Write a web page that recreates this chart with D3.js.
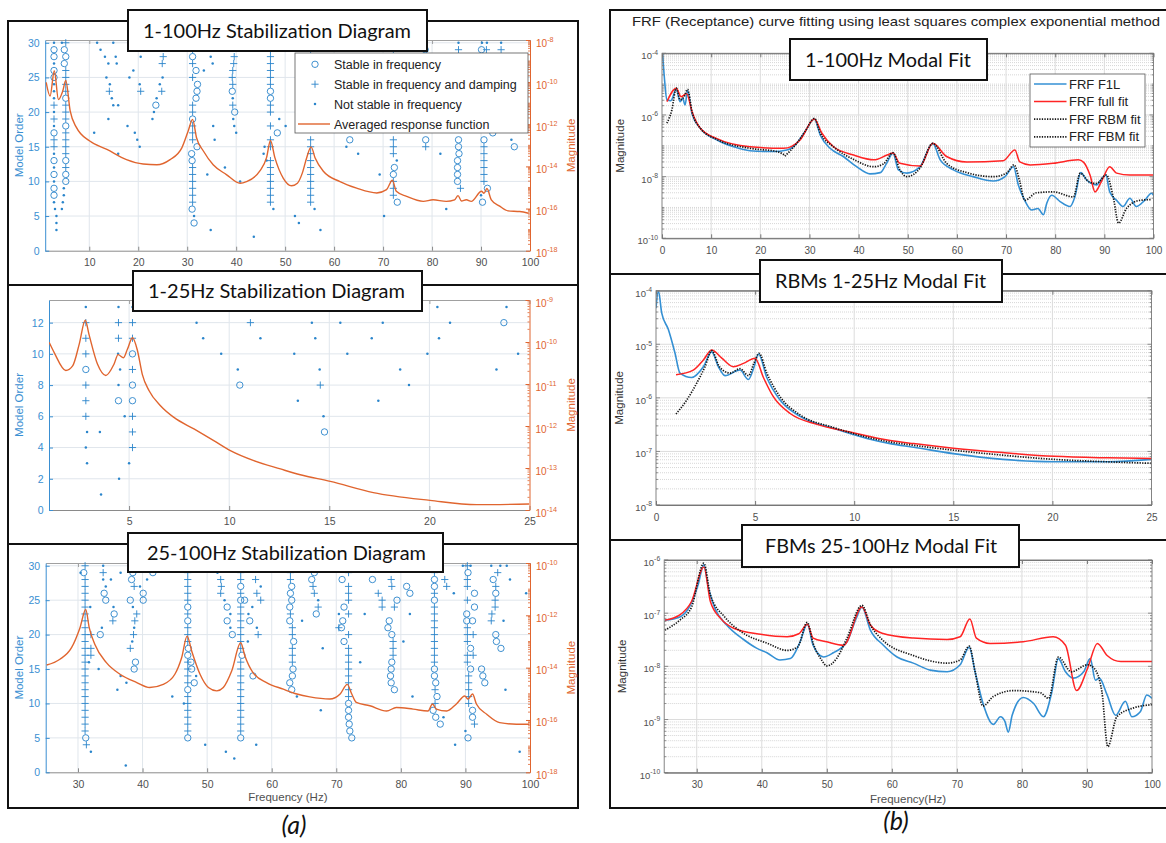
<!DOCTYPE html>
<html>
<head>
<meta charset="utf-8">
<script src="https://cdn.jsdelivr.net/npm/d3@7"></script>
<style>
  html, body { margin: 0; padding: 0; background: #ffffff; }
  svg { display: block; font-family: "Liberation Sans", Arial, sans-serif; }
</style>
</head>
<body>
<svg id="fig" width="1166" height="843"></svg>
<script>
// ---------------- (a) 1-100 Hz stabilization diagram ----------------
const stab100FreqTicks = [10, 20, 30, 40, 50, 60, 70, 80, 90, 100];
const stab100OrderTicks = [0, 5, 10, 15, 20, 25, 30];
const stab100MagTicks = [1e-18, 1e-16, 1e-14, 1e-12, 1e-10, 1e-8];
// [frequency Hz, model order]
const stab100Circle = [
  [2.8,29],[2.8,28],[2.8,26],[2.8,25],[2.8,17],[2.8,13],[2.8,11],[2.8,9],[2.8,8],
  [4.9,29],[4.9,27],[5.2,28],[5.2,22],[5.2,18],[5.2,13],[5.2,11],[5.2,10],
  [23.6,21],
  [31.1,28],[31.8,26],[32.1,24],[32.0,23],[31.8,22],[31.1,19],[32.0,15],[30.9,14],[31.0,13],[31.0,6],[31.4,4],
  [39.2,23],[39.7,20],
  [47.0,23],[47.0,22],[48.4,17],
  [63.2,16],[72.3,12],[72.1,11],[72.9,7],[78.7,16],
  [85.4,16],[85.4,15],[85.5,14],[85.2,13],[85.2,12],[85.2,11],[85.2,10],
  [90.6,16],[91.3,9],[90.3,7],[92.4,17],[96.8,15],[90.1,29],[78.6,29]
];
const stab100Plus = [
  [2.8,21],[2.8,19],[2.8,16],[2.8,15],
  [5.2,30],[5.2,26],[5.2,25],[5.2,24],[5.2,23],[5.2,21],[5.2,20],[5.2,19],[5.2,17],[5.2,16],[5.2,15],[5.2,14],[5.2,12],
  [14.1,23],[20.5,23],[24.8,23],[24.9,27],[25.1,28],
  [31.1,30],[31.1,29],[31.1,27],[31.1,25],[31.1,21],[31.1,20],[31.1,18],[31.1,17],[31.1,16],[31.1,12],[31.1,11],[31.1,10],[31.1,9],[31.1,8],[31.1,7],
  [39.6,28],[39.5,27],[39.3,26],[39.2,25],[39.3,24],[39.3,21],
  [47.0,30],[47.0,29],[47.0,28],[47.0,27],[47.0,26],[47.0,25],[47.0,24],[47.0,21],[47.0,20],[47.0,18],[47.0,16],[47.0,15],[47.0,13],[47.0,12],[47.0,11],[47.0,10],[47.0,9],[47.0,8],[47.0,7],
  [55.2,30],[55.2,29],[55.2,16],[55.2,15],[55.2,14],[55.2,13],[55.2,12],[55.2,11],[55.2,10],[55.2,9],[55.2,8],[55.2,7],
  [72.1,30],[72.1,29],[72.1,16],[72.1,15],[72.1,14],[72.1,10],[72.1,9],[72.1,8],
  [78.7,15],[85.4,29],[85.8,9],
  [90.6,15],[90.6,14],[90.6,13],[90.6,12],[90.6,11],[90.6,10],
  [91.1,29],[94.1,29]
];
const stab100Dot = [
  [2.8,30],[2.8,27],[2.8,24],[2.8,23],[2.8,22],[2.8,20],[2.8,18],[2.8,14],[2.8,12],[2.8,10],[2.8,7],[3.0,6],[3.3,5],[3.3,4],[3.3,3],
  [4.4,30],[4.8,9],[4.8,8],[4.6,7],[4.4,6],
  [11.6,30],[12.3,29],[13.2,28],[13.9,27],[13.5,25],[14.2,24],[14.6,22],[14.9,21],[15.9,21],[13.9,19],[14.9,30],[15.4,28],[15.6,27],
  [11.0,17],[15.9,14],[17.8,18],[18.2,25],[19.0,26],[19.3,17],[19.8,16],[20.3,15],[20.3,24],[20.0,30],[20.5,28],
  [22.9,19],[23.2,20],[23.75,22],[24.4,24],[24.97,25],
  [31.4,5],[33.4,26],[34.8,28],[35.2,27],[35.3,18],[35.6,16],[34.1,11],[34.8,3],[37.7,12],[40.8,10],[40.0,17],[43.6,2],
  [39.4,30],[39.5,29],[39.3,22],[39.4,19],[39.6,18],
  [47.6,6],[45.6,14],[46.2,13],[48.8,19],[50.1,18],[45.8,15],
  [52.0,5],[52.8,4],[56.0,6],[57.2,3],[62.5,15],[64.9,14],
  [72.8,13],[69.3,11],[70.2,5],[81.7,14],[82.9,6],
  [85.4,30],[90.2,30],[91.2,30],[94.1,30],[90.0,8],[96.2,16],[63.2,29]
];
// averaged response function [frequency Hz, magnitude]
const stab100Avg = [
  [1.2,9.8e-11],[2.0,2.2e-11],[2.86,3.5e-10],[3.7,1.5e-11],[4.6,3.9e-11],[5.2,1.2e-10],[6.1,4.3e-12],[7.4,6.9e-13],
  [10.1,1.6e-13],[13.6,6.4e-14],[17.6,2.1e-14],[21,1.3e-14],[23.8,1.2e-14],[26.5,2.1e-14],[28.9,7.6e-14],[30.2,4.8e-13],
  [31.1,1.7e-12],[31.9,2.3e-13],[33.3,5.4e-14],[35.3,1.2e-14],[38.0,4.1e-15],[40.8,1.6e-15],[42.1,1.9e-15],[44.8,5.9e-15],
  [46.2,2.6e-14],[47.0,1.7e-13],[47.9,2.6e-14],[49.6,2.8e-15],[51.3,1.2e-15],[52.5,1.6e-15],[53.5,4.8e-15],[54.4,2.6e-14],
  [55.3,8.5e-14],[56.1,2.6e-14],[57.8,5.9e-15],[61.2,1.9e-15],[64.6,9.3e-16],[68.7,5.5e-16],[70.7,7.9e-16],[71.9,2.2e-15],
  [72.7,6.6e-16],[74.8,3.8e-16],[78.2,2.2e-16],[80.2,2.6e-16],[82.9,2.2e-16],[84.6,2.6e-16],[85.3,4.1e-16],[86.0,2.3e-16],
  [87.0,2.6e-16],[88.0,2.2e-16],[90.1,6.6e-16],[90.6,5.3e-16],[91.2,8.9e-16],[92.1,2.6e-16],[93.8,1.3e-16],[95.5,7.8e-17],
  [97.9,7.2e-17],[99.7,6.0e-17]
];

// ---------------- (a) 1-25 Hz stabilization diagram ----------------
const stab25FreqTicks = [5, 10, 15, 20, 25];
const stab25OrderTicks = [0, 2, 4, 6, 8, 10, 12];
const stab25MagTicks = [1e-14, 1e-13, 1e-12, 1e-11, 1e-10, 1e-9];
const stab25Circle = [[2.84,9],[4.47,7],[5.17,10],[5.17,8],[5.17,7],[10.53,8],[23.72,12],[14.76,5]];
const stab25Plus = [
  [2.84,12],[2.84,11],[2.84,10],[2.84,8],[2.84,7],[2.84,6],[4.47,12],[4.47,11],
  [5.17,12],[5.17,11],[5.17,9],[5.17,6],[5.17,5],[5.17,4],[11.06,12],[14.55,8]
];
const stab25Dot = [
  [2.84,13],[2.9,5],[2.84,4],[2.9,3],[3.54,5],[3.6,1],[4.47,13],[4.45,10],[4.55,9],[4.47,8],[4.78,6],[4.5,2],
  [5.17,13],[5.0,3],[8.37,12],[8.7,11],[9.6,10],[10.43,9],[11.56,11],[13.25,10],[13.43,7],
  [20.4,13],[23.85,13],[14.13,12],[15.55,12],[17.67,12],[21.03,12],[14.3,11],[17.12,11],[20.48,11],
  [15.9,10],[19.9,10],[24.43,10],[14.52,9],[18.54,9],[23.35,9],[18.98,8],[17.45,7],[14.71,6]
];
const stab25Avg = [
  [1.01,9.8e-11],[1.26,5.6e-11],[1.84,2.1e-11],[2.18,2.7e-11],[2.51,8.9e-11],[2.81,3.3e-10],[3.0,1.5e-10],[3.42,3.0e-11],
  [3.84,1.6e-11],[4.25,3.0e-11],[4.45,5.0e-11],[4.72,4.2e-11],[4.92,6.8e-11],[5.17,1.26e-10],[5.42,6.2e-11],[5.66,1.7e-11],
  [6.0,6.9e-12],[6.58,3.0e-12],[7.24,1.6e-12],[8.24,8.5e-13],[9.23,4.5e-13],[10.06,2.6e-13],[11.23,1.5e-13],[12.56,9.5e-14],
  [13.55,6.9e-14],[15.05,4.8e-14],[17.2,2.6e-14],[20.03,1.7e-14],[22.36,1.34e-14],[24.98,1.39e-14]
];

// ---------------- (a) 25-100 Hz stabilization diagram ----------------
const stab25100FreqTicks = [30, 40, 50, 60, 70, 80, 90, 100];
const stab25100OrderTicks = [0, 5, 10, 15, 20, 25, 30];
const stab25100MagTicks = [1e-18, 1e-16, 1e-14, 1e-12, 1e-10];
const stab25100Circle = [
  [30.9,29],[31.2,5],[33.45,20],[34.05,26],[34.3,25],[35.6,23],
  [38.1,25],[38.3,28],[38.5,29],[38.9,16],[38.7,15],[40.1,26],[40.1,25],[41.6,29],
  [47.0,24],[47.0,22],[47.1,18],[47.0,17],[47.5,16],[47.6,15],[48.0,13],[47.0,12],[47.0,5],
  [53.1,24],[53.1,22],[53.9,20],
  [55.2,27],[55.2,25],[55.8,25],[55.4,17],[55.2,5],[56.6,22],[57.1,14],
  [63.1,27],[62.9,26],[63.1,25],[62.8,24],[62.8,22],[63.4,19],[63.3,15],[63.2,14],[62.8,13],[63.1,12],
  [66.2,28],[66.6,29],[66.9,23],
  [70.9,28],[71.2,24],[71.0,22],[70.8,21],[71.2,19],[71.9,10],[71.9,9],[71.9,8],[72.0,7],[72.1,6],[72.4,5],
  [75.6,28],[79.4,25],[78.2,22],[78.0,21],[78.6,20],[78.6,16],[78.5,15],[78.4,14],[78.5,13],[79.0,12],
  [80.9,27],[81.4,26],
  [85.2,28],[85.2,27],[85.2,25],[85.2,15],[85.2,14],[85.4,13],[85.6,11],[85.0,9],[85.4,8],[86.1,7],
  [90.4,29],[90.2,23],[90.2,22],[90.8,18],[90.8,15],[90.4,5],[91.4,26],[91.4,24],[91.1,22],[91.1,9],[91.1,8],
  [92.5,15],[92.7,14],[93.0,13],
  [94.3,28],[94.7,26],[94.7,20],[94.8,19],[95.5,18]
];
const stab25100Plus = [
  [31.1,30],[31.1,28],[31.1,27],[31.1,26],[31.1,25],[31.1,24],[31.1,23],[31.1,22],[31.1,21],[31.1,20],[31.1,19],[31.1,18],
  [31.1,17],[31.1,16],[31.1,15],[31.1,14],[31.1,13],[31.1,12],[31.1,11],[31.1,10],[31.1,9],[31.1,8],[31.1,7],[31.1,6],[31.3,4],
  [32.0,20],[32.0,18],[32.0,17],[33.9,29],[35.4,22],
  [38.1,18],[38.6,20],[38.8,22],[39.1,23],[38.7,27],
  [47.0,30],[47.0,29],[47.0,28],[47.0,27],[47.0,26],[47.0,25],[47.0,23],[47.0,21],[47.0,20],[47.0,19],[47.0,16],[47.0,15],
  [47.0,14],[47.0,13],[47.0,11],[47.0,10],[47.0,9],[47.0,8],[47.0,7],[47.0,6],
  [52.1,28],[52.2,27],[52.1,26],
  [55.2,30],[55.2,29],[55.2,28],[55.2,26],[55.2,24],[55.2,23],[55.2,22],[55.2,21],[55.2,20],[55.2,19],[55.2,18],[55.2,16],
  [55.2,15],[55.2,14],[55.2,13],[55.2,12],[55.2,11],[55.2,10],[55.2,9],[55.2,8],[55.2,7],[55.2,6],
  [57.5,28],[57.7,26],[58.3,25],[57.9,20],
  [62.9,30],[62.9,29],[62.9,28],[62.9,23],[63.2,21],[63.2,20],[63.2,18],[63.2,17],[63.2,16],
  [66.4,27],[66.6,26],[67.2,24],
  [71.9,30],[71.9,29],[71.9,27],[71.9,26],[71.9,25],[71.9,23],[71.9,20],[71.9,18],[71.9,17],[71.9,16],[71.9,15],[71.9,14],
  [71.9,13],[71.9,12],[71.9,11],[70.4,21],
  [76.5,26],[77.1,25],[77.1,24],[78.5,28],[78.6,27],[79.0,24],[78.8,19],[78.8,18],[78.8,17],
  [85.2,29],[85.2,26],[85.2,24],[85.2,23],[85.2,22],[85.2,21],[85.2,20],[85.2,19],[85.2,18],[85.2,17],[85.2,16],[85.3,12],[85.3,10],
  [86.8,28],[87.1,27],
  [90.3,30],[90.3,28],[90.3,27],[90.3,25],[90.3,21],[90.3,20],[90.3,19],[90.3,17],[90.3,16],[90.5,14],[90.5,13],[90.5,12],
  [90.5,11],[90.5,10],[91.4,7],[91.2,20],[91.2,17],
  [95.0,29],[94.6,25],[94.1,23],[94.0,22],[94.7,27],[94.6,24]
];
const stab25100Dot = [
  [32.0,3],[30.4,29],[31.9,24],[31.7,16],[33.2,15],[33.7,21],[34.3,27],[33.9,28],[35.1,28],[33.9,30],[35.5,24],
  [36.6,14],[36.1,12],[37.4,1],[36.6,29],[37.5,13],
  [38.4,19],[38.7,21],[38.5,24],[39.6,27],[40.7,28],
  [44.6,11],[46.4,10],[48.3,14],[49.7,4],[52.9,3],[54.2,2],
  [52.7,25],[53.6,21],[53.6,23],[51.6,29],
  [57.6,4],[56.4,23],[57.0,24],[56.3,19],[58.3,27],[57.7,21],[57.5,30],
  [63.9,11],[67.2,25],[64.7,22],[67.9,18],[67.6,9],
  [70.4,23],[74.4,23],[73.7,16],
  [81.4,23],[80.4,19],[81.8,11],
  [88.2,26],[86.6,8],[88.4,4],[90.0,6],
  [94.0,30],[95.4,30],[96.4,30],[96.9,28],[95.9,22],[96.2,12],[98.4,3],[99.4,26],[89.6,30],[90.8,30]
];
const stab25100Avg = [
  [25.15,1.26e-14],[27.2,2.1e-14],[29.0,5.8e-14],[30.3,3.3e-13],[31.2,1.66e-12],[31.75,3.3e-13],[32.6,7.8e-14],[34.4,1.55e-14],
  [36.5,5.6e-15],[39.1,2.7e-15],[41.1,1.74e-15],[43.2,2.3e-15],[45.0,5.6e-15],[46.05,2.4e-14],[46.9,1.6e-13],[47.6,4.4e-14],
  [48.9,5.6e-15],[50.2,1.74e-15],[51.5,1.29e-15],[52.5,1.74e-15],[53.8,7.4e-15],[55.2,8.9e-14],[55.85,2.8e-14],[57.1,6.5e-15],
  [59.2,2.7e-15],[61.8,1.5e-15],[63.9,9.8e-16],[65.9,7.6e-16],[69.0,6.3e-16],[70.6,9.8e-16],[71.7,2.3e-15],[72.4,9.8e-16],
  [73.1,4.7e-16],[75.2,3.5e-16],[77.8,2.2e-16],[79.3,3.0e-16],[81.9,2.6e-16],[84.2,2.2e-16],[84.9,4.1e-16],[85.5,2.6e-16],
  [87.1,2.2e-16],[88.6,4.1e-16],[89.9,8.3e-16],[90.4,6.3e-16],[91.1,9.8e-16],[91.7,4.1e-16],[93.3,1.65e-16],[95.3,7.9e-17],
  [97.9,6.9e-17],[99.9,6.9e-17]
];

// ---------------- (b) 1-100 Hz modal fit ----------------
const fit100FreqTicks = [0, 10, 20, 30, 40, 50, 60, 70, 80, 90, 100];
const fit100MagTicks = [1e-10, 1e-8, 1e-6, 1e-4];
const fit100F1L = [
  [0.12,1e-4],[0.47,1.7e-5],[1.0,3.1e-6],[1.8,2.9e-6],[2.9,6.8e-6],[3.7,2.7e-6],[4.2,3.5e-6],[4.7,2.1e-6],[5.2,6.2e-6],
  [6.1,1.1e-6],[7.8,3.7e-7],[11.2,1.55e-7],[14.6,9.3e-8],[17.9,6.9e-8],[22.7,6.5e-8],[25.4,7.3e-8],[27.4,1.2e-7],[29.1,2.9e-7],
  [31.0,7.4e-7],[32.2,2.2e-7],[34.2,8.3e-8],[36.9,4.5e-8],[39.6,2.1e-8],[42.3,1.23e-8],[44.4,1.35e-8],[45.7,2.7e-8],[47.0,5.8e-8],
  [48.1,1.66e-8],[49.8,1.3e-8],[52.5,2.1e-8],[55.1,1.2e-7],[56.6,3.5e-8],[59.3,1.66e-8],[63.3,1e-8],[67.4,7.2e-9],[69.8,1e-8],
  [71.5,2.1e-8],[72.5,5.4e-9],[73.8,1.7e-9],[75.2,8.3e-10],[76.5,9.3e-10],[77.6,5.8e-10],[78.3,1.4e-9],[79.3,2.5e-9],
  [81.0,1.55e-9],[83.0,1.07e-9],[84.0,2.2e-9],[85.2,1.35e-8],[86.4,7.8e-9],[88.4,5.4e-9],[89.8,1e-8],[90.3,1.13e-8],
  [91.1,3.2e-9],[92.5,1.7e-9],[93.8,1.07e-9],[95.2,2.0e-9],[96.5,1.07e-9],[98.2,1.7e-9],[99.6,2.9e-9],[100,2.5e-9]
];
const fit100Full = [
  [1.0,2.7e-6],[2.9,7.4e-6],[3.9,3.9e-6],[5.0,5.0e-6],[6.1,1.3e-6],[7.8,3.7e-7],[11.2,1.7e-7],[17.9,9.3e-8],[24.7,8.3e-8],
  [28.1,1.55e-7],[31.0,7.4e-7],[32.5,2.6e-7],[34.9,9.3e-8],[39.0,5.0e-8],[43.1,3.5e-8],[45.8,5.0e-8],[47.0,5.8e-8],[48.4,2.7e-8],
  [52.5,2.2e-8],[55.1,1.2e-7],[57.9,4.5e-8],[62.0,3.0e-8],[69.4,3.3e-8],[71.8,7.3e-8],[72.8,3.0e-8],[74.9,2.4e-8],[79.6,2.7e-8],
  [84.7,3.5e-8],[85.8,2.9e-8],[87.1,1.1e-8],[88.1,3.2e-9],[89.4,6.9e-9],[91.1,2.1e-8],[92.5,1.3e-8],[95.2,1.13e-8],[100,1.13e-8]
];
const fit100Rbm = [
  [1.0,5.4e-7],[2.0,1.45e-6],[2.9,7.4e-6],[3.7,3.1e-6],[4.5,3.9e-6],[5.2,6.8e-6],[6.1,1.3e-6],[7.8,3.7e-7],[11.2,1.6e-7],
  [17.9,8.3e-8],[23.4,6.5e-8],[25.0,5.0e-8]
];
const fit100Fbm = [
  [25.0,4.6e-8],[27.4,1.2e-7],[29.1,2.9e-7],[31.0,7.7e-7],[32.2,2.6e-7],[34.9,9.3e-8],[39.0,3.6e-8],[43.1,2.1e-8],[45.1,2.6e-8],
  [47.0,6e-8],[48.4,1.66e-8],[49.8,1e-8],[52.5,1.9e-8],[55.1,1.2e-7],[57.9,2.7e-8],[62.0,1.35e-8],[67.4,1e-8],[70.1,1.3e-8],
  [71.6,2.4e-8],[72.8,6.9e-9],[73.8,1.7e-9],[76.2,3.0e-9],[79.6,3.2e-9],[83.7,2.2e-9],[85.1,1.3e-8],[86.8,6.9e-9],[88.4,6.0e-9],
  [90.4,1.13e-8],[91.8,2.2e-9],[92.9,3.1e-10],[94.5,9.3e-10],[97.2,1.7e-9],[99.6,1.8e-9]
];

// ---------------- (b) RBMs 1-25 Hz modal fit ----------------
const fit25FreqTicks = [0, 5, 10, 15, 20, 25];
const fit25MagTicks = [1e-8, 1e-7, 1e-6, 1e-5, 1e-4];
const fit25F1L = [
  [0,4.7e-5],[0.12,1e-4],[0.29,3.8e-5],[0.62,1.9e-5],[0.96,6.8e-6],[1.21,2.9e-6],[1.8,2.4e-6],[2.39,3.8e-6],[2.81,7.2e-6],
  [3.15,3.8e-6],[3.48,2.6e-6],[4.24,3.3e-6],[4.66,2.2e-6],[4.95,3.8e-6],[5.17,6.6e-6],[5.59,2.4e-6],[6.26,9.1e-7],[7.27,4.5e-7],
  [8.95,2.7e-7],[10.64,1.75e-7],[11.82,1.4e-7],[13.0,1.2e-7],[15.0,9.1e-8],[17.5,7.1e-8],[20.1,6.4e-8],[22.8,6.4e-8],[25.0,7.1e-8]
];
const fit25Full = [
  [1.01,2.7e-6],[1.88,3.3e-6],[2.39,5.1e-6],[2.81,7.8e-6],[3.32,5.5e-6],[3.9,3.8e-6],[4.41,4.4e-6],[5.0,5.5e-6],[5.42,2.4e-6],
  [5.92,1.05e-6],[6.77,5.1e-7],[8.12,3.2e-7],[9.8,2.3e-7],[11.82,1.6e-7],[13.0,1.4e-7],[15.0,1.15e-7],[17.5,9.5e-8],[20.1,8.1e-8],
  [22.8,7.6e-8],[25.0,7.4e-8]
];
const fit25Rbm = [
  [1.01,5.0e-7],[1.55,9.1e-7],[2.06,1.9e-6],[2.47,3.8e-6],[2.81,7.6e-6],[3.2,3.8e-6],[3.74,2.9e-6],[4.24,3.5e-6],[4.66,2.6e-6],
  [4.95,4.5e-6],[5.2,6.8e-6],[5.59,2.9e-6],[6.26,1.05e-6],[7.27,4.8e-7],[8.95,2.8e-7],[11.8,1.5e-7],[13.0,1.3e-7],[17.5,8.5e-8],
  [20.1,7.1e-8],[22.8,6.4e-8],[25.0,6.0e-8]
];

// ---------------- (b) FBMs 25-100 Hz modal fit ----------------
const fitFbmFreqTicks = [30, 40, 50, 60, 70, 80, 90, 100];
const fitFbmMagTicks = [1e-10, 1e-9, 1e-8, 1e-7, 1e-6];
const fitFbmF1L = [
  [25.1,7.4e-8],[27.4,8.5e-8],[29.0,1.4e-7],[30.2,3.4e-7],[31.1,8.1e-7],[31.8,3.0e-7],[32.8,1.23e-7],[34.6,6.0e-8],[37.2,3.2e-8],
  [39.2,2.2e-8],[40.8,1.8e-8],[42.8,1.32e-8],[44.4,1.4e-8],[45.9,2.9e-8],[47.0,6.2e-8],[47.9,2.5e-8],[49.5,1.5e-8],[51.0,1.8e-8],
  [53.1,2.9e-8],[54.5,7.9e-8],[55.4,1.3e-7],[56.7,4.8e-8],[58.7,2.5e-8],[60.8,1.5e-8],[63.3,1.15e-8],[65.9,8.5e-9],[68.5,7.9e-9],
  [70.5,1.07e-8],[71.9,2.3e-8],[72.8,7.9e-9],[74.1,1.86e-9],[75.6,8.1e-10],[76.7,1.13e-9],[77.4,9.1e-10],[77.9,5.8e-10],
  [78.5,1.2e-9],[80.2,2.6e-9],[81.8,2.0e-9],[83.3,1.13e-9],[84.6,3.3e-9],[85.6,1.4e-8],[86.7,7.9e-9],[87.9,6.0e-9],[89.5,7.9e-9],
  [90.5,1.4e-8],[91.3,5.5e-9],[91.9,6.0e-9],[93.1,2.9e-9],[94.4,1.2e-9],[95.9,2.2e-9],[96.9,1.13e-9],[98.2,1.4e-9],[99.2,2.9e-9],
  [100,2.5e-9]
];
const fitFbmFull = [
  [25.1,7.4e-8],[27.4,9.3e-8],[29.2,1.66e-7],[31.1,7.4e-7],[32.1,1.66e-7],[33.7,7.9e-8],[35.7,5.2e-8],[39.8,4.0e-8],[43.9,3.6e-8],
  [45.7,4.1e-8],[47.0,6.2e-8],[47.9,3.4e-8],[50.0,2.9e-8],[52.6,2.5e-8],[55.4,1.3e-7],[56.7,6.0e-8],[58.5,4.2e-8],[63.3,3.4e-8],
  [68.5,3.2e-8],[70.5,3.6e-8],[72.0,7.8e-8],[73.0,3.4e-8],[75.1,2.7e-8],[80.2,2.9e-8],[84.8,3.6e-8],[86.7,2.5e-8],[88.4,3.5e-9],
  [90.1,9.2e-9],[91.6,2.7e-8],[93.1,1.6e-8],[95.2,1.23e-8],[100,1.23e-8]
];
const fitFbmFbm = [
  [25.1,4.8e-8],[27.4,7.4e-8],[29.2,1.3e-7],[31.1,8.7e-7],[32.1,2.2e-7],[34.3,8.5e-8],[36.8,4.5e-8],[40.9,2.7e-8],[43.9,2.0e-8],
  [45.5,2.3e-8],[47.0,6.7e-8],[47.9,2.7e-8],[49.2,1.32e-8],[50.0,1.02e-8],[51.5,1.4e-8],[53.1,3.4e-8],[55.4,1.4e-7],[56.7,6.0e-8],
  [58.5,3.2e-8],[63.3,1.6e-8],[68.5,1.15e-8],[70.5,1.32e-8],[71.9,2.4e-8],[72.8,7.9e-9],[74.0,1.8e-9],[75.6,2.7e-9],[78.7,3.5e-9],
  [82.8,3.2e-9],[84.1,2.5e-9],[85.6,1.5e-8],[87.6,7.9e-9],[90.1,1.07e-8],[91.1,9.2e-9],[92.3,3.3e-9],[93.2,3.1e-10],[94.6,1.13e-9],
  [97.2,1.66e-9],[100,1.9e-9]
];

// ---------------- styling ----------------
const MARK_BLUE = "#2a85cb";
const AXIS_BLUE = "#3a8fd2";
const ORANGE = "#e0652f";
const GRID_L = "#e0e6ec";
const GRID_R = "#dcdcdc";
const AX_GRAY = "#8a8a8a";
const TICK_TXT = "#505050";
const F1L_BLUE = "#3490d4";
const FULL_RED = "#ff2424";
const FIT_BLACK = "#161616";

const svg = d3.select("#fig");
svg.append("rect").attr("width", 1166).attr("height", 843).attr("fill", "#fff");
const defs = svg.append("defs");

// all k*10^n values between the decade limits of a log domain
function logSteps(domain) {
  const lo = Math.round(Math.log10(domain[0])), hi = Math.round(Math.log10(domain[1]));
  const out = [];
  for (let n = lo; n < hi; n++) for (let k = 1; k < 10; k++) out.push(+(k * Math.pow(10, n)).toPrecision(3));
  out.push(domain[1]);
  return out;
}
function isDecade(v) { return Math.abs(Math.log10(v) - Math.round(Math.log10(v))) < 1e-6; }

function powLabel(g, x, y, v, anchor, color, size) {
  const t = g.append("text").attr("x", x).attr("y", y).attr("text-anchor", anchor)
    .attr("fill", color).attr("font-size", size);
  t.append("tspan").text("10");
  t.append("tspan").attr("dy", -size * 0.48).attr("font-size", size * 0.72)
    .text(String(Math.round(Math.log10(v))));
}

function frame(x0, y0, x1, y1) {
  svg.append("rect").attr("x", x0).attr("y", y0).attr("width", x1 - x0).attr("height", y1 - y0)
    .attr("fill", "none").attr("stroke", "#111").attr("stroke-width", 2);
}
function titleBox(b, label, tx, tw) {
  const g = svg.append("g");
  g.append("rect").attr("x", b[0]).attr("y", b[1]).attr("width", b[2] - b[0]).attr("height", b[3] - b[1])
    .attr("fill", "#fff").attr("stroke", "#111").attr("stroke-width", 2);
  g.append("text").attr("x", tx).attr("y", (b[1] + b[3]) / 2 + 7)
    .attr("font-family", "Lato, 'Open Sans', sans-serif").attr("font-size", 19.5).attr("fill", "#111")
    .attr("textLength", tw).attr("lengthAdjust", "spacingAndGlyphs").text(label);
}

// ---------------- stabilization diagram panel ----------------
function drawStab(p) {
  const [bx0, by0, bx1, by1] = p.box;
  const g = svg.append("g");
  const x = d3.scaleLinear().domain(p.xDomain).range([bx0, bx1]);
  const yO = d3.scaleLinear().domain(p.orderDomain).range([by1, by0]);
  const yM = d3.scaleLog().domain(p.magDomain).range([by1, by0]);

  defs.append("clipPath").attr("id", p.id + "clip").append("rect")
    .attr("x", bx0).attr("y", by0).attr("width", bx1 - bx0).attr("height", by1 - by0);

  // grid
  g.selectAll(null).data(p.xTicks.filter(v => v > p.xDomain[0] && v < p.xDomain[1])).join("line")
    .attr("x1", d => x(d)).attr("x2", d => x(d)).attr("y1", by0).attr("y2", by1)
    .attr("stroke", GRID_L).attr("stroke-width", 1);
  g.selectAll(null).data(p.orderTicks.filter(v => v > p.orderDomain[0] && v < p.orderDomain[1])).join("line")
    .attr("x1", bx0).attr("x2", bx1).attr("y1", d => yO(d)).attr("y2", d => yO(d))
    .attr("stroke", GRID_L).attr("stroke-width", 1);

  // axes
  const axB = g.append("g").attr("transform", `translate(0,${by1})`)
    .call(d3.axisBottom(x).tickValues(p.xTicks).tickSizeInner(-4).tickSizeOuter(0).tickPadding(8).tickFormat(d3.format("d")));
  axB.attr("font-family", null).attr("font-size", 10.5).attr("color", AX_GRAY);
  axB.selectAll("text").attr("fill", TICK_TXT);
  const axT = g.append("g").attr("transform", `translate(0,${by0})`)
    .call(d3.axisTop(x).tickValues(p.xTicks).tickSizeInner(-4).tickSizeOuter(0).tickFormat(""));
  axT.attr("color", "#a0a0a0");
  const axL = g.append("g").attr("transform", `translate(${bx0},0)`)
    .call(d3.axisLeft(yO).tickValues(p.orderTicks).tickSizeInner(-4).tickSizeOuter(0).tickPadding(5.5).tickFormat(d3.format("d")));
  axL.attr("font-family", null).attr("font-size", 10.5).attr("color", AXIS_BLUE);
  const axR = g.append("g").attr("transform", `translate(${bx1},0)`)
    .call(d3.axisRight(yM).tickValues(p.magTicks).tickSizeInner(-4).tickSizeOuter(0).tickFormat(""));
  axR.attr("color", ORANGE);
  g.selectAll(null).data(logSteps(p.magDomain).filter(v => p.magTicks.indexOf(v) < 0)).join("line")
    .attr("x1", bx1 - 2).attr("x2", bx1).attr("y1", d => yM(d)).attr("y2", d => yM(d))
    .attr("stroke", ORANGE).attr("stroke-width", 0.8);
  p.magTicks.forEach(v => powLabel(g, bx1 + 6, yM(v) + 6.5, v, "start", ORANGE, 10));

  // markers
  g.selectAll(null).data(p.circles).join("circle")
    .attr("cx", d => x(d[0])).attr("cy", d => yO(d[1])).attr("r", 3.2)
    .attr("fill", "none").attr("stroke", MARK_BLUE).attr("stroke-width", 0.9);
  g.selectAll(null).data(p.pluses).join("path")
    .attr("d", d => `M${x(d[0]) - 3.6},${yO(d[1])}h7.2M${x(d[0])},${yO(d[1]) - 3.6}v7.2`)
    .attr("stroke", MARK_BLUE).attr("stroke-width", 0.9).attr("fill", "none");
  g.selectAll(null).data(p.dots).join("circle")
    .attr("cx", d => x(d[0])).attr("cy", d => yO(d[1])).attr("r", 1.25).attr("fill", MARK_BLUE);

  // averaged response
  const line = d3.line().x(d => x(d[0])).y(d => yM(d[1])).curve(d3.curveMonotoneX);
  g.append("path").datum(p.avg).attr("d", line).attr("fill", "none")
    .attr("stroke", ORANGE).attr("stroke-width", 1.4).attr("clip-path", `url(#${p.id}clip)`);

  // axis labels
  g.append("text").attr("transform", `translate(23,${(by0 + by1) / 2}) rotate(-90)`)
    .attr("text-anchor", "middle").attr("font-size", 11.5).attr("fill", AXIS_BLUE).text("Model Order");
  g.append("text").attr("transform", `translate(574.5,${(by0 + by1) / 2}) rotate(-90)`)
    .attr("text-anchor", "middle").attr("font-size", 11.5).attr("fill", ORANGE).text("Magnitude");
  if (p.xLabel) {
    g.append("text").attr("x", (bx0 + bx1) / 2).attr("y", 801).attr("text-anchor", "middle")
      .attr("font-size", 11.5).attr("fill", TICK_TXT).text(p.xLabel);
  }
  return g;
}

// ---------------- modal fit panel ----------------
function drawFit(p) {
  const [bx0, by0, bx1, by1] = p.box;
  const g = svg.append("g");
  const x = d3.scaleLinear().domain(p.xDomain).range([bx0, bx1]);
  const y = d3.scaleLog().domain(p.magDomain).range([by1, by0]);
  defs.append("clipPath").attr("id", p.id + "clip").append("rect")
    .attr("x", bx0).attr("y", by0).attr("width", bx1 - bx0).attr("height", by1 - by0);

  const steps = logSteps(p.magDomain);
  // minor (dotted) and major (solid) grid
  g.selectAll(null).data(steps.filter(v => p.magTicks.indexOf(v) < 0)).join("line")
    .attr("x1", bx0).attr("x2", bx1).attr("y1", d => y(d)).attr("y2", d => y(d))
    .attr("stroke", "#cdcdcd").attr("stroke-width", 0.8).attr("stroke-dasharray", "1,1");
  g.selectAll(null).data(p.magTicks.filter(v => v > p.magDomain[0] && v < p.magDomain[1])).join("line")
    .attr("x1", bx0).attr("x2", bx1).attr("y1", d => y(d)).attr("y2", d => y(d))
    .attr("stroke", GRID_R).attr("stroke-width", 1);
  g.selectAll(null).data(p.xTicks.filter(v => v > p.xDomain[0] && v < p.xDomain[1])).join("line")
    .attr("x1", d => x(d)).attr("x2", d => x(d)).attr("y1", by0).attr("y2", by1)
    .attr("stroke", GRID_R).attr("stroke-width", 1);

  // curves
  const line = d3.line().x(d => x(d[0])).y(d => y(d[1])).curve(d3.curveMonotoneX);
  const cg = g.append("g").attr("clip-path", `url(#${p.id}clip)`).attr("fill", "none");
  p.series.forEach(s => {
    const path = cg.append("path").datum(s.data).attr("d", line)
      .attr("stroke", s.color).attr("stroke-width", s.width);
    if (s.dash) path.attr("stroke-dasharray", s.dash);
  });

  // box and ticks
  g.append("rect").attr("x", bx0).attr("y", by0).attr("width", bx1 - bx0).attr("height", by1 - by0)
    .attr("fill", "none").attr("stroke", "#777").attr("stroke-width", 0.9);
  const axB = g.append("g").attr("transform", `translate(0,${by1})`)
    .call(d3.axisBottom(x).tickValues(p.xTicks).tickSizeInner(-4).tickSizeOuter(0).tickPadding(8.5).tickFormat(d3.format("d")));
  axB.attr("font-family", null).attr("font-size", 10).attr("color", "#777");
  axB.selectAll("text").attr("fill", TICK_TXT);
  g.append("g").attr("transform", `translate(0,${by0})`)
    .call(d3.axisTop(x).tickValues(p.xTicks).tickSizeInner(-4).tickSizeOuter(0).tickFormat(""))
    .attr("color", "#777");
  [bx0, bx1].forEach(xx => {
    const dir = xx === bx0 ? 1 : -1;
    g.selectAll(null).data(steps).join("line")
      .attr("x1", xx).attr("x2", d => xx + dir * (isDecade(d) && p.magTicks.indexOf(d) >= 0 ? 4 : 2))
      .attr("y1", d => y(d)).attr("y2", d => y(d)).attr("stroke", "#777").attr("stroke-width", 0.8);
  });
  p.magTicks.forEach(v => powLabel(g, bx0 - 4, y(v) + 6, v, "end", TICK_TXT, 9.5));

  g.append("text").attr("transform", `translate(${p.yLabelX},${(by0 + by1) / 2}) rotate(-90)`)
    .attr("text-anchor", "middle").attr("font-size", 11.5).attr("fill", "#333").text("Magnitude");
  if (p.xLabel) {
    g.append("text").attr("x", 908).attr("y", 803).attr("text-anchor", "middle")
      .attr("font-size", 11.5).attr("fill", TICK_TXT).text(p.xLabel);
  }
  return g;
}

// ---------------- panel frames ----------------
frame(8, 21, 578, 285);
frame(8, 285, 578, 544);
frame(8, 544, 578, 808);
frame(610, 10, 1172, 274);
frame(610, 274, 1172, 540);
frame(610, 540, 1172, 808);

// ---------------- (a) stabilization diagrams ----------------
drawStab({ id: "s100", box: [45.2, 40, 530, 250.7], xDomain: [1, 100], orderDomain: [0, 30.4], magDomain: [1e-18, 1e-8],
  xTicks: stab100FreqTicks, orderTicks: stab100OrderTicks, magTicks: stab100MagTicks,
  circles: stab100Circle, pluses: stab100Plus, dots: stab100Dot, avg: stab100Avg });
drawStab({ id: "s25", box: [49, 300, 529.5, 510], xDomain: [1, 25], orderDomain: [0, 13.45], magDomain: [1e-14, 1e-9],
  xTicks: stab25FreqTicks, orderTicks: stab25OrderTicks, magTicks: stab25MagTicks,
  circles: stab25Circle, pluses: stab25Plus, dots: stab25Dot, avg: stab25Avg });
drawStab({ id: "s25100", box: [45.7, 563, 530, 772.3], xDomain: [25, 100], orderDomain: [0, 30.4], magDomain: [1e-18, 1e-10],
  xTicks: stab25100FreqTicks, orderTicks: stab25100OrderTicks, magTicks: stab25100MagTicks,
  circles: stab25100Circle, pluses: stab25100Plus, dots: stab25100Dot, avg: stab25100Avg, xLabel: "Frequency (Hz)" });

// legend of the 1-100 Hz stabilization diagram
(function () {
  const g = svg.append("g");
  g.append("rect").attr("x", 295).attr("y", 53).attr("width", 233).attr("height", 80)
    .attr("fill", "#fff").attr("stroke", "#555").attr("stroke-width", 0.8);
  const rows = [
    { label: "Stable in frequency", kind: "circle" },
    { label: "Stable in frequency and damping", kind: "plus" },
    { label: "Not stable in frequency", kind: "dot" },
    { label: "Averaged response function", kind: "line" }
  ];
  rows.forEach((r, i) => {
    const yy = 64.3 + i * 19.9;
    if (r.kind === "circle") g.append("circle").attr("cx", 315).attr("cy", yy).attr("r", 3.2)
      .attr("fill", "none").attr("stroke", MARK_BLUE).attr("stroke-width", 0.9);
    if (r.kind === "plus") g.append("path").attr("d", `M311.4,${yy}h7.2M315,${yy - 3.6}v7.2`)
      .attr("stroke", MARK_BLUE).attr("stroke-width", 0.9);
    if (r.kind === "dot") g.append("circle").attr("cx", 315).attr("cy", yy).attr("r", 1.25).attr("fill", MARK_BLUE);
    if (r.kind === "line") g.append("line").attr("x1", 298).attr("x2", 330).attr("y1", yy).attr("y2", yy)
      .attr("stroke", ORANGE).attr("stroke-width", 1.4);
    g.append("text").attr("x", 334).attr("y", yy + 4.5).attr("font-size", 12.5).attr("fill", "#222").text(r.label);
  });
})();

// ---------------- (b) modal fits ----------------
svg.append("text").attr("x", 632).attr("y", 26).attr("font-size", 13).attr("fill", "#222")
  .attr("textLength", 528).attr("lengthAdjust", "spacingAndGlyphs")
  .text("FRF (Receptance) curve fitting using least squares complex exponential method");

const DOT = "1.3,1.3";
drawFit({ id: "f100", box: [662, 53.3, 1153.5, 238.3], xDomain: [0, 100], magDomain: [1e-10, 1e-4],
  xTicks: fit100FreqTicks, magTicks: fit100MagTicks, yLabelX: 624,
  series: [
    { data: fit100F1L, color: F1L_BLUE, width: 1.6 },
    { data: fit100Full, color: FULL_RED, width: 1.5 },
    { data: fit100Rbm, color: FIT_BLACK, width: 1.7, dash: DOT },
    { data: fit100Fbm, color: FIT_BLACK, width: 1.7, dash: DOT }
  ] });
drawFit({ id: "f25", box: [656, 290.7, 1151.5, 505], xDomain: [0, 25], magDomain: [1e-8, 1e-4],
  xTicks: fit25FreqTicks, magTicks: fit25MagTicks, yLabelX: 623,
  series: [
    { data: fit25F1L, color: F1L_BLUE, width: 1.6 },
    { data: fit25Full, color: FULL_RED, width: 1.5 },
    { data: fit25Rbm, color: FIT_BLACK, width: 1.7, dash: DOT }
  ] });
drawFit({ id: "ffbm", box: [664.2, 560, 1152, 772.7], xDomain: [25, 100], magDomain: [1e-10, 1e-6],
  xTicks: fitFbmFreqTicks, magTicks: fitFbmMagTicks, yLabelX: 626, xLabel: "Frequency(Hz)",
  series: [
    { data: fitFbmF1L, color: F1L_BLUE, width: 1.6 },
    { data: fitFbmFull, color: FULL_RED, width: 1.5 },
    { data: fitFbmFbm, color: FIT_BLACK, width: 1.7, dash: DOT }
  ] });

// legend of the 1-100 Hz modal fit
(function () {
  const g = svg.append("g");
  g.append("rect").attr("x", 1030).attr("y", 74).attr("width", 115).attr("height", 73)
    .attr("fill", "#fff").attr("stroke", "#555").attr("stroke-width", 0.8);
  const rows = [
    { label: "FRF F1L", color: F1L_BLUE, width: 1.6 },
    { label: "FRF full fit", color: FULL_RED, width: 1.5 },
    { label: "FRF RBM fit", color: FIT_BLACK, width: 1.7, dash: DOT },
    { label: "FRF FBM fit", color: FIT_BLACK, width: 1.7, dash: DOT }
  ];
  rows.forEach((r, i) => {
    const yy = 84 + i * 17.6;
    const l = g.append("line").attr("x1", 1034).attr("x2", 1066.5).attr("y1", yy).attr("y2", yy)
      .attr("stroke", r.color).attr("stroke-width", r.width);
    if (r.dash) l.attr("stroke-dasharray", r.dash);
    g.append("text").attr("x", 1069).attr("y", yy + 4.6).attr("font-size", 13).attr("fill", "#222").text(r.label);
  });
})();

// ---------------- panel titles ----------------
titleBox([128, 10, 427, 51], "1-100Hz Stabilization Diagram", 143, 268);
titleBox([133, 271, 422, 311], "1-25Hz Stabilization Diagram", 148, 257);
titleBox([128, 533, 443, 572], "25-100Hz Stabilization Diagram", 147, 279);
titleBox([790, 39, 987, 80], "1-100Hz Modal Fit", 805, 166);
titleBox([760, 260, 1002, 302], "RBMs 1-25Hz Modal Fit", 775, 211);
titleBox([742, 525, 1019, 567], "FBMs 25-100Hz Modal Fit", 765, 232);

// sub-figure captions
svg.append("text").attr("x", 294).attr("y", 834).attr("text-anchor", "middle")
  .attr("font-family", "Lato, 'Open Sans', sans-serif").attr("font-style", "italic").attr("font-size", 25)
  .attr("fill", "#111").text("(a)");
svg.append("text").attr("x", 896).attr("y", 830).attr("text-anchor", "middle")
  .attr("font-family", "Lato, 'Open Sans', sans-serif").attr("font-style", "italic").attr("font-size", 25)
  .attr("fill", "#111").text("(b)");
</script>
</body>
</html>
